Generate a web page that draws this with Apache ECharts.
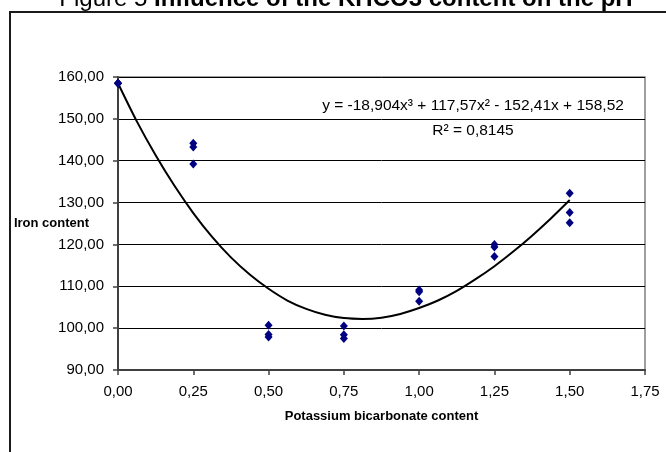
<!DOCTYPE html>
<html>
<head>
<meta charset="utf-8">
<script src="https://cdn.jsdelivr.net/npm/echarts@6/dist/echarts.min.js"></script>
<style>
  html, body { margin: 0; padding: 0; background: #fff; }
  #chart { width: 666px; height: 452px; }
</style>
</head>
<body>
<div id="chart"></div>
<script>
// KHCO3 dose (x) and three replicate iron readings per dose
const doses = [0, 0.25, 0.5, 0.75, 1.0, 1.25, 1.5];
const rep1 = [158.5, 144.2, 100.7, 100.5, 109.1, 120.0, 132.2];
const rep2 = [158.5, 143.3, 98.5, 98.4, 108.7, 119.4, 127.6];
const rep3 = [158.5, 139.2, 97.9, 97.5, 106.4, 117.1, 125.2];

// polynomial trend line, every 1/16
const trendX = [0, 0.0625, 0.125, 0.1875, 0.25, 0.3125, 0.375, 0.4375, 0.5,
  0.5625, 0.625, 0.6875, 0.75, 0.8125, 0.875, 0.9375, 1.0,
  1.0625, 1.125, 1.1875, 1.25, 1.3125, 1.375, 1.4375, 1.5];
const trendY = [158.5, 149.4, 141.3, 134.0, 127.5, 121.8, 116.9, 112.8, 109.4,
  106.6, 104.6, 103.2, 102.4, 102.2, 102.5, 103.4, 104.8,
  106.6, 108.9, 111.7, 114.8, 118.3, 122.1, 126.2, 130.6];

const titleText = '{a|Figure 5 }{b|Influence of the KHCO3 content on the pH}';
const eqText = 'y = -18,904x³ + 117,57x² - 152,41x + 158,52';
const r2Text = 'R² = 0,8145';

const FONT = 'Arial, "Liberation Sans", sans-serif';

const points = [];
[rep1, rep2, rep3].forEach(rep => {
  rep.forEach((v, i) => points.push([doses[i], v]));
});
const trend = trendX.map((x, i) => [x, trendY[i]]);

const fmt = (v, d) => v.toFixed(d).replace('.', ',');

const chart = echarts.init(document.getElementById('chart'));

const option = {
  animation: false,
  backgroundColor: '#fff',
  grid: {
    left: 118, top: 77, width: 527, height: 293,
    containLabel: false,
    outerBoundsMode: 'none',
    show: true,
    borderColor: '#808080',
    borderWidth: 1.5
  },
  xAxis: {
    type: 'value',
    min: 0, max: 1.75, interval: 0.25,
    name: 'Potassium bicarbonate content',
    nameLocation: 'middle',
    nameGap: 40,
    nameTextStyle: { fontFamily: FONT, fontSize: 13, fontWeight: 'bold', color: '#000' },
    axisLine: { lineStyle: { color: '#404040', width: 2 } },
    axisTick: { show: true, length: 5, lineStyle: { color: '#404040', width: 1.5 } },
    axisLabel: { fontFamily: FONT, fontSize: 15, color: '#000', margin: 14,
      formatter: v => fmt(v, 2) },
    splitLine: { show: false }
  },
  yAxis: {
    type: 'value',
    min: 90, max: 160, interval: 10,
    name: 'Iron content',
    nameLocation: 'middle',
    nameRotate: 0,
    nameGap: 29,
    nameMoveOverlap: false,
    nameTextStyle: { fontFamily: FONT, fontSize: 13, fontWeight: 'bold', color: '#000', align: 'right' },
    axisLine: { show: true, lineStyle: { color: '#404040', width: 2 } },
    axisTick: { show: true, length: 5, lineStyle: { color: '#404040', width: 1.5 } },
    axisLabel: { fontFamily: FONT, fontSize: 15, color: '#000', margin: 14,
      formatter: v => fmt(v, 2) },
    splitLine: { show: true, lineStyle: { color: '#000', width: 1 } }
  },
  series: [
    {
      type: 'line',
      data: trend,
      smooth: 0.3,
      showSymbol: false,
      lineStyle: { color: '#000', width: 2 },
      z: 2
    },
    {
      type: 'scatter',
      data: points,
      symbol: 'diamond',
      symbolSize: [8, 9],
      itemStyle: { color: '#000080', opacity: 1 },
      z: 3
    }
  ],
  graphic: [
    {
      type: 'rect',
      shape: { x: 10, y: 12, width: 700, height: 500 },
      style: { fill: null, stroke: '#1a1a1a', lineWidth: 2 },
      silent: true
    },
    {
      type: 'text',
      x: 346, y: 11,
      style: {
        text: titleText,
        align: 'center',
        verticalAlign: 'bottom',
        rich: {
          a: { fontFamily: FONT, fontSize: 24, color: '#000' },
          b: { fontFamily: FONT, fontSize: 24, fontWeight: 'bold', color: '#000' }
        }
      }
    },
    {
      type: 'text',
      x: 473, y: 106,
      style: { text: eqText, font: '15.5px ' + FONT, fill: '#000', align: 'center', verticalAlign: 'middle' }
    },
    {
      type: 'text',
      x: 473, y: 131,
      style: { text: r2Text, font: '15.5px ' + FONT, fill: '#000', align: 'center', verticalAlign: 'middle' }
    }
  ]
};

chart.setOption(option);
</script>
</body>
</html>
